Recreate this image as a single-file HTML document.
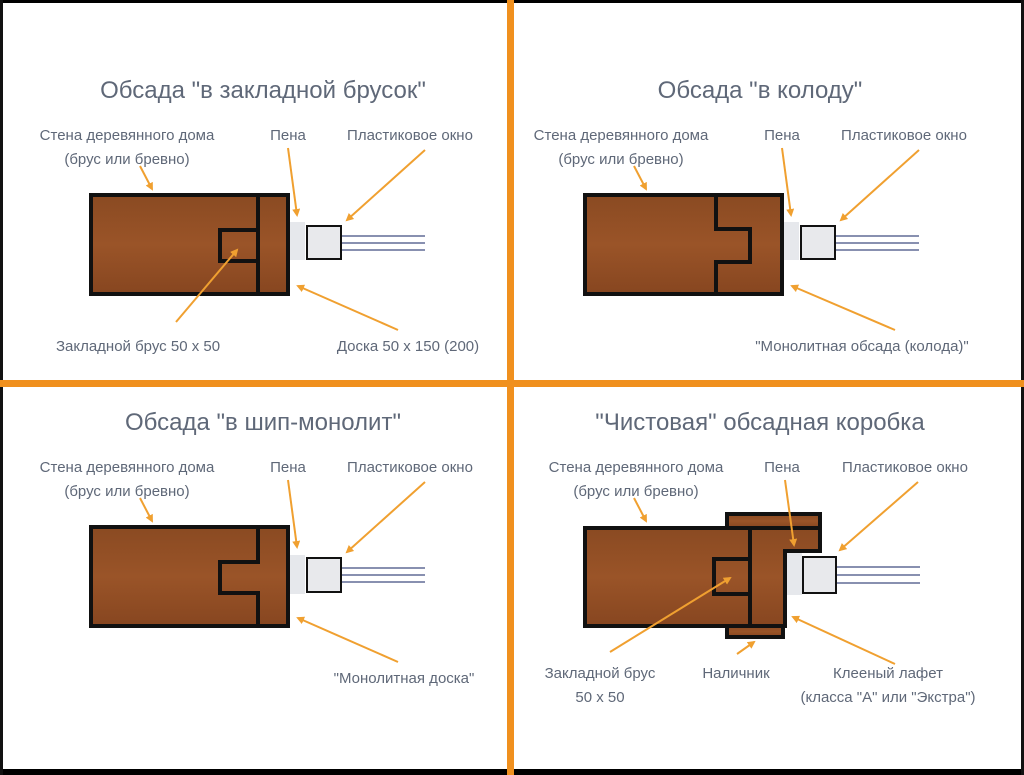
<!DOCTYPE html>
<html><head><meta charset="utf-8"><style>
html,body{margin:0;padding:0;background:#fff}
svg{display:block}
text{font-family:"Liberation Sans","DejaVu Sans",sans-serif;fill:#5f6878}
.t{font-size:24px}
.l{font-size:15px}
</style></head><body>
<svg width="1024" height="775" viewBox="0 0 1024 775" xmlns="http://www.w3.org/2000/svg">
<defs>
<marker id="ah" markerWidth="8" markerHeight="8" refX="6" refY="4" orient="auto" markerUnits="userSpaceOnUse">
<path d="M0,0 L8,4 L0,8 Z" fill="#f0a030"/></marker>
<linearGradient id="wd" x1="0" y1="0" x2="0" y2="1">
<stop offset="0" stop-color="#8a4a22"/><stop offset="0.5" stop-color="#9a5428"/><stop offset="1" stop-color="#874620"/></linearGradient>
</defs>
<rect x="0" y="0" width="1024" height="775" fill="#fff"/>
<rect x="0" y="0" width="1024" height="3" fill="#000"/>
<rect x="0" y="769" width="1024" height="6" fill="#000"/>
<rect x="0" y="0" width="3" height="775" fill="#111"/>
<rect x="1021" y="0" width="3" height="775" fill="#111"/>
<rect x="507" y="0" width="7" height="775" fill="#f0901e"/>
<rect x="0" y="380" width="1024" height="7" fill="#f0901e"/>

<!-- Panel 1 -->
<text class="t" x="263" y="98" text-anchor="middle">Обсада "в закладной брусок"</text>
<text class="l" x="127" y="140" text-anchor="middle">Стена деревянного дома</text>
<text class="l" x="127" y="164" text-anchor="middle">(брус или бревно)</text>
<text class="l" x="288" y="140" text-anchor="middle">Пена</text>
<text class="l" x="410" y="140" text-anchor="middle">Пластиковое окно</text>
<text class="l" x="138" y="351" text-anchor="middle">Закладной брус 50 x 50</text>
<text class="l" x="408" y="351" text-anchor="middle">Доска 50 x 150 (200)</text>
<rect x="91" y="195" width="197" height="99" fill="url(#wd)" stroke="#111" stroke-width="4"/>
<line x1="258" y1="195" x2="258" y2="294" stroke="#111" stroke-width="4"/>
<rect x="220" y="230" width="38" height="31" fill="none" stroke="#111" stroke-width="4"/>
<rect x="290" y="222" width="15" height="38" fill="#e6e8ec"/>
<rect x="307" y="226" width="34" height="33" fill="#e8e9ec" stroke="#111" stroke-width="2"/>
<g stroke="#8890b0" stroke-width="2"><line x1="342" y1="236" x2="425" y2="236"/><line x1="342" y1="243" x2="425" y2="243"/><line x1="342" y1="250" x2="425" y2="250"/></g>

<!-- Panel 2 -->
<text class="t" x="760" y="98" text-anchor="middle">Обсада "в колоду"</text>
<text class="l" x="621" y="140" text-anchor="middle">Стена деревянного дома</text>
<text class="l" x="621" y="164" text-anchor="middle">(брус или бревно)</text>
<text class="l" x="782" y="140" text-anchor="middle">Пена</text>
<text class="l" x="904" y="140" text-anchor="middle">Пластиковое окно</text>
<text class="l" x="862" y="351" text-anchor="middle">"Монолитная обсада (колода)"</text>
<rect x="585" y="195" width="197" height="99" fill="url(#wd)" stroke="#111" stroke-width="4"/>
<path d="M716,195 V229 H750 V262 H716 V294" fill="none" stroke="#111" stroke-width="4"/>
<rect x="784" y="222" width="15" height="38" fill="#e6e8ec"/>
<rect x="801" y="226" width="34" height="33" fill="#e8e9ec" stroke="#111" stroke-width="2"/>
<g stroke="#8890b0" stroke-width="2"><line x1="836" y1="236" x2="919" y2="236"/><line x1="836" y1="243" x2="919" y2="243"/><line x1="836" y1="250" x2="919" y2="250"/></g>

<!-- Panel 3 -->
<text class="t" x="263" y="430" text-anchor="middle">Обсада "в шип-монолит"</text>
<text class="l" x="127" y="472" text-anchor="middle">Стена деревянного дома</text>
<text class="l" x="127" y="496" text-anchor="middle">(брус или бревно)</text>
<text class="l" x="288" y="472" text-anchor="middle">Пена</text>
<text class="l" x="410" y="472" text-anchor="middle">Пластиковое окно</text>
<text class="l" x="404" y="683" text-anchor="middle">"Монолитная доска"</text>
<rect x="91" y="527" width="197" height="99" fill="url(#wd)" stroke="#111" stroke-width="4"/>
<path d="M258,527 V562 H220 V593 H258 V626" fill="none" stroke="#111" stroke-width="4"/>
<rect x="290" y="555" width="15" height="39" fill="#e6e8ec"/>
<rect x="307" y="558" width="34" height="34" fill="#e8e9ec" stroke="#111" stroke-width="2"/>
<g stroke="#8890b0" stroke-width="2"><line x1="342" y1="568" x2="425" y2="568"/><line x1="342" y1="575" x2="425" y2="575"/><line x1="342" y1="582" x2="425" y2="582"/></g>

<!-- Panel 4 -->
<text class="t" x="760" y="430" text-anchor="middle">"Чистовая" обсадная коробка</text>
<text class="l" x="636" y="472" text-anchor="middle">Стена деревянного дома</text>
<text class="l" x="636" y="496" text-anchor="middle">(брус или бревно)</text>
<text class="l" x="782" y="472" text-anchor="middle">Пена</text>
<text class="l" x="905" y="472" text-anchor="middle">Пластиковое окно</text>
<text class="l" x="600" y="678" text-anchor="middle">Закладной брус</text>
<text class="l" x="600" y="702" text-anchor="middle">50 x 50</text>
<text class="l" x="736" y="678" text-anchor="middle">Наличник</text>
<text class="l" x="888" y="678" text-anchor="middle">Клееный лафет</text>
<text class="l" x="888" y="702" text-anchor="middle">(класса "А" или "Экстра")</text>
<rect x="727" y="514" width="93" height="14" fill="url(#wd)" stroke="#111" stroke-width="4"/>
<rect x="727" y="626" width="56" height="11" fill="url(#wd)" stroke="#111" stroke-width="4"/>
<rect x="585" y="528" width="165" height="98" fill="url(#wd)" stroke="#111" stroke-width="4"/>
<path d="M750,528 H820 V551 H785 V626 H750 Z" fill="url(#wd)" stroke="#111" stroke-width="4"/>
<rect x="714" y="559" width="36" height="35" fill="none" stroke="#111" stroke-width="4"/>
<rect x="787" y="553" width="15" height="42" fill="#e6e8ec"/>
<rect x="803" y="557" width="33" height="36" fill="#e8e9ec" stroke="#111" stroke-width="2"/>
<g stroke="#8890b0" stroke-width="2"><line x1="837" y1="567" x2="920" y2="567"/><line x1="837" y1="575" x2="920" y2="575"/><line x1="837" y1="583" x2="920" y2="583"/></g>

<g stroke="#f0a030" stroke-width="2" fill="none" marker-end="url(#ah)">
<line x1="140" y1="166" x2="152" y2="189"/>
<line x1="288" y1="148" x2="297" y2="215"/>
<line x1="425" y1="150" x2="347" y2="220"/>
<line x1="176" y1="322" x2="237" y2="250"/>
<line x1="398" y1="330" x2="298" y2="286"/>
<line x1="634" y1="166" x2="646" y2="189"/>
<line x1="782" y1="148" x2="791" y2="215"/>
<line x1="919" y1="150" x2="841" y2="220"/>
<line x1="895" y1="330" x2="792" y2="286"/>
<line x1="140" y1="498" x2="152" y2="521"/>
<line x1="288" y1="480" x2="297" y2="547"/>
<line x1="425" y1="482" x2="347" y2="552"/>
<line x1="398" y1="662" x2="298" y2="618"/>
<line x1="634" y1="498" x2="646" y2="521"/>
<line x1="785" y1="480" x2="794" y2="545"/>
<line x1="918" y1="482" x2="840" y2="550"/>
<line x1="610" y1="652" x2="730" y2="578"/>
<line x1="737" y1="654" x2="754" y2="642"/>
<line x1="895" y1="664" x2="793" y2="617"/>
</g>
</svg>
</body></html>
